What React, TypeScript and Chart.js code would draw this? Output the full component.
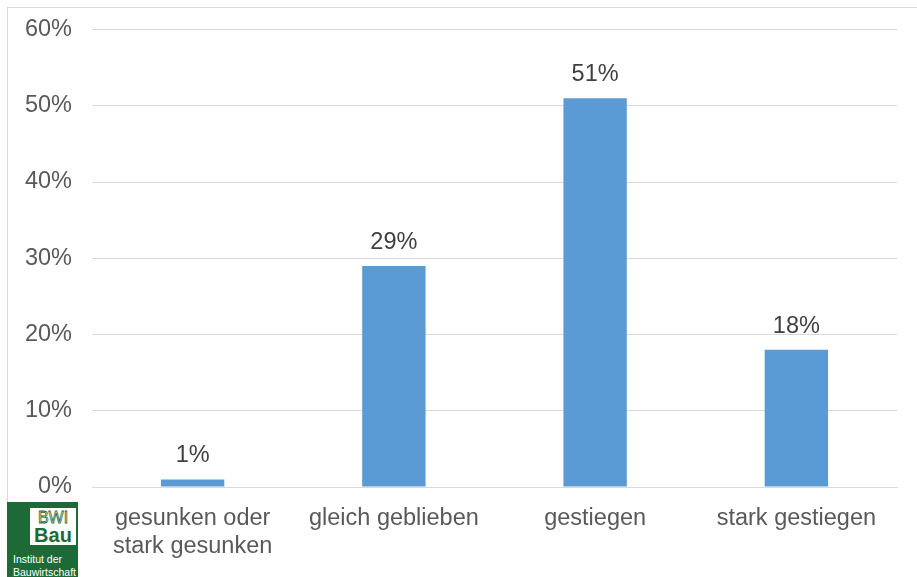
import React, { useEffect, useRef } from "react";
import { Chart, registerables } from "chart.js";

Chart.register(...registerables);

const categories: (string | string[])[] = [
  ["gesunken oder", "stark gesunken"],
  "gleich geblieben",
  "gestiegen",
  "stark gestiegen",
];
const values = [1, 29, 51, 18];
const yTicks = [0, 10, 20, 30, 40, 50, 60];

const FONT = "'Liberation Sans', Arial, sans-serif";
const FS = 23.5;

const labelPlugin = {
  id: "barLabels",
  afterDatasetsDraw(chart: any) {
    const ctx = chart.ctx;
    const meta = chart.getDatasetMeta(0);
    ctx.save();
    ctx.font = `${FS}px ${FONT}`;
    ctx.fillStyle = "#404040";
    ctx.textAlign = "center";
    ctx.textBaseline = "alphabetic";
    meta.data.forEach((bar: any, i: number) => {
      ctx.fillText(values[i] + "%", bar.x, bar.y - 17);
    });
    ctx.restore();
  },
};

export default function App() {
  const ref = useRef<HTMLCanvasElement>(null);
  useEffect(() => {
    if (!ref.current) return;
    const chart = new Chart(ref.current, {
      type: "bar",
      data: {
        labels: categories,
        datasets: [
          {
            data: values,
            backgroundColor: "#5b9bd5",
            barPercentage: 0.315,
            categoryPercentage: 1,
          },
        ],
      },
      options: {
        animation: false,
        responsive: false,
        maintainAspectRatio: false,
        layout: { padding: { top: 29.5, right: 20, left: 0, bottom: 0 } },
        plugins: { legend: { display: false }, tooltip: { enabled: false } },
        scales: {
          y: {
            min: 0,
            max: 60,
            afterBuildTicks: (axis: any) => {
              axis.ticks = yTicks.map((v) => ({ value: v }));
            },
            afterFit: (axis: any) => {
              axis.width = 92;
              axis.paddingTop = 0;
              axis.paddingBottom = 0;
            },
            ticks: {
              callback: (v: any) => v + "%",
              font: { size: FS, family: FONT },
              color: "#595959",
              padding: 20,
            },
            grid: { color: "#d9d9d9", drawTicks: false, lineWidth: 1 },
            border: { display: false },
          },
          x: {
            afterFit: (axis: any) => {
              axis.height = 90;
            },
            ticks: {
              font: { size: FS, family: FONT, lineHeight: 28 / FS },
              color: "#595959",
              padding: 10,
              maxRotation: 0,
              autoSkip: false,
            },
            grid: { display: false },
            border: { color: "#d9d9d9" },
          },
        },
      },
      plugins: [labelPlugin],
    });
    return () => chart.destroy();
  }, []);

  return (
    <div
      style={{
        position: "fixed",
        left: 0,
        top: 0,
        width: 917,
        height: 577,
        background: "#fff",
        overflow: "hidden",
      }}
    >
      <div
        style={{
          position: "absolute",
          left: 7,
          top: 7,
          width: 920,
          height: 580,
          border: "1px solid #d9d9d9",
          boxSizing: "border-box",
        }}
      />
      <canvas
        ref={ref}
        width={917}
        height={577}
        style={{ position: "absolute", left: 0, top: 0 }}
      />
      <div
        style={{
          position: "absolute",
          left: 7,
          top: 502,
          width: 71,
          height: 75,
          background: "#1d6a36",
          fontFamily: FONT,
        }}
      >
        <div
          style={{
            position: "absolute",
            left: 23,
            top: 6,
            width: 46,
            height: 37,
            background: "#fff",
            textAlign: "center",
            color: "#1d6a36",
          }}
        >
          <div
            style={{
              fontSize: 16,
              lineHeight: "17px",
              color: "#fff",
              WebkitTextStroke: "0.8px #1d6a36",
              marginTop: 1,
            }}
          >
            BWI
          </div>
          <div style={{ fontSize: 20, fontWeight: "bold", lineHeight: "18px" }}>
            Bau
          </div>
        </div>
        <div
          style={{
            position: "absolute",
            left: 6,
            top: 51,
            fontSize: 10.5,
            lineHeight: "13px",
            color: "#fff",
            whiteSpace: "nowrap",
          }}
        >
          Institut der
          <br />
          Bauwirtschaft
        </div>
      </div>
    </div>
  );
}
